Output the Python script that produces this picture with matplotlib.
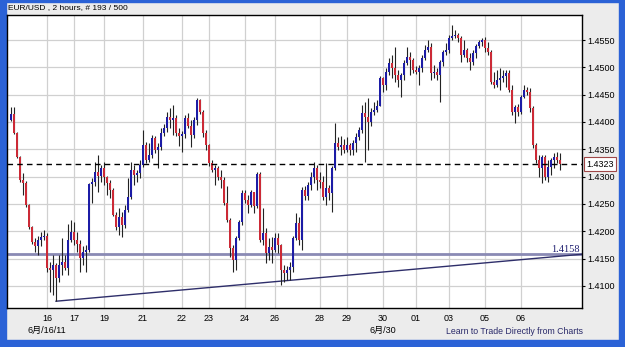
import numpy as np
import matplotlib
matplotlib.use("Agg")
import matplotlib.pyplot as plt
from matplotlib.patches import Rectangle
import matplotlib.transforms as mtransforms

plt.rcParams['font.family'] = ['Liberation Sans', 'Noto Sans CJK JP', 'DejaVu Sans']

# EUR/USD 2 hour bars
first_open = 1.4404
closes = [
    1.4415, 1.4380, 1.4336, 1.4294, 1.4288, 1.4248, 1.4208, 1.4180, 1.4173, 1.4184,
    1.4190, 1.4191, 1.4133, 1.4129, 1.4138, 1.4114, 1.4138, 1.4144, 1.4133, 1.4184,
    1.4199, 1.4184, 1.4177, 1.4151, 1.4162, 1.4166, 1.4287, 1.4290, 1.4308, 1.4301,
    1.4316, 1.4299, 1.4288, 1.4276, 1.4230, 1.4208, 1.4226, 1.4211, 1.4239, 1.4263,
    1.4312, 1.4303, 1.4307, 1.4321, 1.4358, 1.4330, 1.4340, 1.4371, 1.4349, 1.4354,
    1.4380, 1.4389, 1.4409, 1.4404, 1.4407, 1.4380, 1.4374, 1.4378, 1.4407, 1.4393,
    1.4376, 1.4404, 1.4440, 1.4418, 1.4380, 1.4358, 1.4325, 1.4312, 1.4316, 1.4299,
    1.4294, 1.4252, 1.4221, 1.4169, 1.4147, 1.4188, 1.4217, 1.4270, 1.4257, 1.4248,
    1.4272, 1.4246, 1.4305, 1.4184, 1.4197, 1.4160, 1.4171, 1.4166, 1.4188, 1.4175,
    1.4129, 1.4124, 1.4129, 1.4135, 1.4188, 1.4215, 1.4184, 1.4276, 1.4265, 1.4285,
    1.4299, 1.4316, 1.4294, 1.4290, 1.4263, 1.4279, 1.4270, 1.4316, 1.4361, 1.4354,
    1.4358, 1.4349, 1.4358, 1.4349, 1.4361, 1.4372, 1.4385, 1.4416, 1.4409, 1.4400,
    1.4418, 1.4422, 1.4429, 1.4480, 1.4468, 1.4491, 1.4508, 1.4499, 1.4486, 1.4477,
    1.4486, 1.4508, 1.4519, 1.4513, 1.4495, 1.4491, 1.4499, 1.4517, 1.4532, 1.4537,
    1.4490, 1.4491, 1.4486, 1.4510, 1.4528, 1.4532, 1.4554, 1.4557, 1.4559, 1.4554,
    1.4523, 1.4532, 1.4517, 1.4510, 1.4526, 1.4539, 1.4546, 1.4550, 1.4535, 1.4528,
    1.4473, 1.4468, 1.4477, 1.4480, 1.4484, 1.4490, 1.4458, 1.4418, 1.4427, 1.4418,
    1.4446, 1.4458, 1.4455, 1.4426, 1.4358, 1.4330, 1.4316, 1.4336, 1.4299, 1.4318,
    1.4330, 1.4336, 1.4330, 1.4323,
]
highs = [
    1.4427, 1.4427, 1.4382, 1.4338, 1.4307, 1.4292, 1.4250, 1.4210, 1.4188, 1.4191,
    1.4199, 1.4202, 1.4197, 1.4144, 1.4157, 1.4142, 1.4157, 1.4188, 1.4157, 1.4213,
    1.4221, 1.4217, 1.4199, 1.4184, 1.4173, 1.4175, 1.4288, 1.4298, 1.4327, 1.4340,
    1.4321, 1.4327, 1.4301, 1.4294, 1.4279, 1.4235, 1.4243, 1.4235, 1.4248, 1.4298,
    1.4327, 1.4321, 1.4312, 1.4330, 1.4385, 1.4363, 1.4361, 1.4376, 1.4374, 1.4361,
    1.4389, 1.4396, 1.4418, 1.4426, 1.4431, 1.4413, 1.4389, 1.4383, 1.4413, 1.4416,
    1.4404, 1.4409, 1.4444, 1.4442, 1.4422, 1.4385, 1.4360, 1.4330, 1.4321, 1.4319,
    1.4312, 1.4299, 1.4283, 1.4224, 1.4175, 1.4191, 1.4221, 1.4276, 1.4276, 1.4266,
    1.4276, 1.4272, 1.4308, 1.4308, 1.4243, 1.4206, 1.4188, 1.4190, 1.4197, 1.4197,
    1.4177, 1.4138, 1.4136, 1.4144, 1.4191, 1.4233, 1.4226, 1.4281, 1.4283, 1.4290,
    1.4308, 1.4327, 1.4321, 1.4308, 1.4301, 1.4325, 1.4285, 1.4319, 1.4398, 1.4372,
    1.4374, 1.4369, 1.4372, 1.4361, 1.4367, 1.4380, 1.4391, 1.4431, 1.4436, 1.4444,
    1.4426, 1.4436, 1.4440, 1.4484, 1.4482, 1.4499, 1.4517, 1.4523, 1.4537, 1.4495,
    1.4490, 1.4513, 1.4537, 1.4528, 1.4517, 1.4502, 1.4504, 1.4523, 1.4541, 1.4550,
    1.4545, 1.4504, 1.4499, 1.4513, 1.4532, 1.4545, 1.4559, 1.4578, 1.4568, 1.4563,
    1.4557, 1.4550, 1.4535, 1.4526, 1.4532, 1.4543, 1.4550, 1.4554, 1.4556, 1.4546,
    1.4532, 1.4491, 1.4495, 1.4499, 1.4495, 1.4495, 1.4495, 1.4468, 1.4431, 1.4433,
    1.4449, 1.4468, 1.4464, 1.4462, 1.4429, 1.4361, 1.4340, 1.4340, 1.4340, 1.4330,
    1.4334, 1.4343, 1.4345, 1.4343,
]
lows = [
    1.4402, 1.4378, 1.4334, 1.4290, 1.4266, 1.4244, 1.4204, 1.4177, 1.4162, 1.4157,
    1.4173, 1.4184, 1.4125, 1.4089, 1.4083, 1.4072, 1.4107, 1.4120, 1.4129, 1.4120,
    1.4180, 1.4175, 1.4162, 1.4125, 1.4138, 1.4125, 1.4162, 1.4252, 1.4283, 1.4272,
    1.4290, 1.4285, 1.4266, 1.4261, 1.4228, 1.4202, 1.4193, 1.4190, 1.4206, 1.4235,
    1.4259, 1.4285, 1.4290, 1.4298, 1.4318, 1.4325, 1.4327, 1.4334, 1.4343, 1.4316,
    1.4349, 1.4374, 1.4382, 1.4389, 1.4376, 1.4374, 1.4356, 1.4345, 1.4371, 1.4389,
    1.4354, 1.4371, 1.4394, 1.4415, 1.4372, 1.4349, 1.4319, 1.4308, 1.4285, 1.4294,
    1.4279, 1.4248, 1.4217, 1.4153, 1.4125, 1.4129, 1.4184, 1.4211, 1.4252, 1.4233,
    1.4244, 1.4233, 1.4243, 1.4180, 1.4175, 1.4142, 1.4147, 1.4142, 1.4162, 1.4160,
    1.4102, 1.4107, 1.4111, 1.4111, 1.4125, 1.4184, 1.4175, 1.4166, 1.4257, 1.4257,
    1.4276, 1.4288, 1.4276, 1.4279, 1.4257, 1.4248, 1.4257, 1.4235, 1.4312, 1.4349,
    1.4340, 1.4343, 1.4345, 1.4340, 1.4340, 1.4345, 1.4367, 1.4380, 1.4327, 1.4349,
    1.4393, 1.4413, 1.4418, 1.4429, 1.4455, 1.4458, 1.4486, 1.4480, 1.4473, 1.4464,
    1.4446, 1.4477, 1.4504, 1.4486, 1.4490, 1.4488, 1.4468, 1.4491, 1.4513, 1.4528,
    1.4477, 1.4480, 1.4477, 1.4436, 1.4502, 1.4523, 1.4526, 1.4550, 1.4554, 1.4546,
    1.4510, 1.4519, 1.4510, 1.4495, 1.4504, 1.4517, 1.4535, 1.4539, 1.4528, 1.4523,
    1.4469, 1.4462, 1.4464, 1.4458, 1.4473, 1.4464, 1.4455, 1.4413, 1.4398, 1.4411,
    1.4415, 1.4444, 1.4449, 1.4418, 1.4352, 1.4325, 1.4299, 1.4288, 1.4294, 1.4290,
    1.4303, 1.4316, 1.4325, 1.4312,
]

day_bars = [12, 21, 31, 44, 57, 66, 78, 88, 103, 112, 124, 135, 146, 158, 170]
day_labels = ["16", "17", "19", "21", "22", "23", "24", "26", "28", "29", "30",
              "01", "03", "05", "06"]
month_labels = {12: "6月/16/11", 124: "6月/30"}

price_levels = [1.4100, 1.4150, 1.4200, 1.4250, 1.4300, 1.4350, 1.4400, 1.4450,
                1.4500, 1.4550]
support_level = 1.4158
trend_from = (15, 1.4072)
trend_to = (190.3, 1.4158)

closes = np.array(closes)
opens = np.concatenate([[first_open], closes[:-1]])
highs = np.maximum(np.array(highs), np.maximum(opens, closes))
lows = np.minimum(np.array(lows), np.minimum(opens, closes))
idx = np.arange(len(closes))


def fig_xy(px, py):
    return px / 625, 1 - py / 347


fig = plt.figure(figsize=(6.25, 3.47), dpi=100)
fig.patch.set_facecolor('#ececec')
ax = fig.add_axes([7 / 625, 1 - 308 / 347, 575 / 625, 293 / 347])
ax.set_facecolor('white')

# window border
border = '#2b62d6'
fig.add_artist(Rectangle((0, 0), 6 / 625, 1, transform=fig.transFigure, color=border, zorder=0))
fig.add_artist(Rectangle((619 / 625, 0), 6 / 625, 1, transform=fig.transFigure, color=border, zorder=0))
fig.add_artist(Rectangle((0, 0), 1, 7 / 347, transform=fig.transFigure, color=border, zorder=0))
fig.add_artist(Rectangle((0, 1 - 2 / 347), 1, 2 / 347, transform=fig.transFigure, color=border, zorder=0))

# candles
up = closes >= opens
ax.vlines(idx, lows, highs, color='#222222', lw=0.8, zorder=3)
body_h = np.maximum(np.abs(closes - opens), 0.00012)
ax.bar(idx[up], body_h[up], bottom=np.minimum(opens, closes)[up], width=0.85,
       color='#1c1ca6', zorder=4)
ax.bar(idx[~up], body_h[~up], bottom=np.minimum(opens, closes)[~up], width=0.85,
       color='#cc2a36', zorder=4)

# lines
ax.axhline(support_level, color='#8a8ab4', lw=2, zorder=2)
ax.plot([trend_from[0], trend_to[0]], [trend_from[1], trend_to[1]], color='#2e2e6a', lw=1, zorder=2)
ax.axhline(closes[-1], color='black', lw=1, ls=(0, (4, 3)), zorder=5)
ax.text(189.5, support_level + 0.00012, f"{support_level:.4f}", ha='right', va='bottom',
        fontsize=7.5, color='#1e1e70', family='Liberation Serif')

ax.set_xlim(-1.33, 190.33)
ax.set_ylim(1.40596, 1.45958)
ax.set_xticks(day_bars)
ax.set_xticklabels(day_labels)
ax.set_yticks(price_levels)
ax.set_yticklabels([f"{v:.4f}" for v in price_levels])
ax.yaxis.tick_right()
ax.tick_params(axis='x', length=0, pad=4, labelsize=6.5)
ax.tick_params(axis='y', length=2.5, pad=1.5, labelsize=6.5, direction='out')
ax.grid(True, color='#d0d0d0', lw=0.9, zorder=0)
ax.set_axisbelow(True)
for s in ax.spines.values():
    s.set_color('black')
    s.set_linewidth(1)

xt = ax.get_xaxis_transform()
for bar, lab in month_labels.items():
    ax.text(bar, -0.078, lab, transform=xt, ha='center', va='center', fontsize=6.5)

yt = mtransforms.blended_transform_factory(ax.transAxes, ax.transData)
ax.text(1.008, closes[-1], f"{closes[-1]:.4f}", transform=yt, ha='left', va='center',
        fontsize=6.5, bbox=dict(boxstyle='square,pad=0.25', fc='white', ec='#a04848', lw=0.8))

fig.text(*fig_xy(8, 8), "EUR/USD , 2 hours, # 193 / 500", ha='left', va='center', fontsize=6)
fig.text(*fig_xy(515, 331), "Learn to Trade Directly from Charts", ha='center', va='center',
         fontsize=6.3, color='#2a2a6a')

fig.savefig("out.png", dpi=100, facecolor=fig.get_facecolor())
